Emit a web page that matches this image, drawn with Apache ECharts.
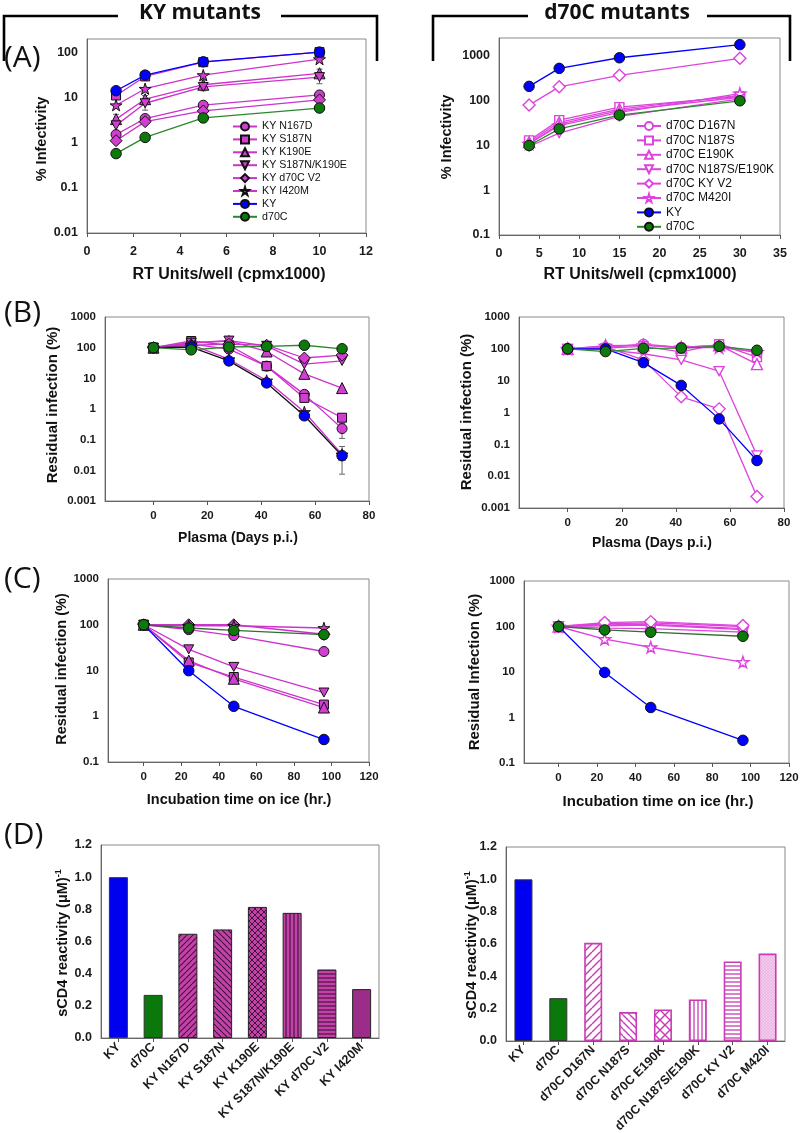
<!DOCTYPE html>
<html><head><meta charset="utf-8">
<script src="https://cdn.jsdelivr.net/npm/echarts@6/dist/echarts.min.js"></script>
<style>html,body{margin:0;padding:0;background:#fff}#c{width:800px;height:1133px}</style>
</head><body><div id="c"></div>
<script>
// ---------------- DATA ----------------
const leftNames  = ['KY N167D','KY S187N','KY K190E','KY S187N/K190E','KY d70C V2','KY I420M','KY','d70C'];
const rightNames = ['d70C D167N','d70C N187S','d70C E190K','d70C N187S/E190K','d70C KY V2','d70C M420I','KY','d70C'];

// (A) infectivity
const aLeftX  = [1.25, 2.5, 5, 10];
const aL_N167D = [1.5, 3.4, 6.7, 11.3];
const aL_S187N = [11, 29, 60, 100];
const aL_K190E = [3.3, 9.1, 19, 34];
const aL_S187N_K190E = [2.4, 7.4, 17, 28];
const aL_V2 = [1.1, 2.9, 5.0, 8.8];
const aL_I420M = [6.7, 15.5, 31, 70];
const aL_KY = [14, 31, 61, 100];
const aL_d70C = [0.57, 1.3, 3.5, 5.8];
const aL_err = [[1.25, 2.6, 4.2], [2.5, 5.2, 11], [5, 14, 24], [10, 20, 42]];

const aRightX = [3.75, 7.5, 15, 30];
const aR_D167N = [11, 30, 60, 120];
const aR_N187S = [13, 37, 72, 125];
const aR_E190K = [12, 33, 65, 132];
const aR_N187S_E190K = [9.5, 19, 45, 110];
const aR_KYV2 = [80, 205, 370, 890];
const aR_M420I = [11, 28, 55, 145];
const aR_KY = [210, 530, 915, 1800];
const aR_d70C = [10, 23.5, 48, 100];

// (B) plasma neutralization
const bX = [0, 14, 28, 42, 56, 70];
const bL_N167D = [100, 130, 90, 25, 3.0, 0.23];
const bL_S187N = [100, 165, 120, 25, 2.3, 0.52];
const bL_K190E = [100, 140, 165, 75, 14, 4.8];
const bL_S187N_K190E = [100, 145, 170, 115, 29, 37];
const bL_V2 = [100, 120, 130, 120, 46, 57];
const bL_I420M = [100, 125, 42, 8.5, 0.8, 0.033];
const bL_KY = [100, 105, 37, 7.1, 0.6, 0.03];
const bL_d70C = [100, 85, 105, 110, 120, 92];
const bL_err = [[70, 0.0075, 0.06], [70, 0.11, 0.34]];

const bR_D167N = [100, 110, 140, 110, 130, 75];
const bR_N187S = [100, 105, 120, 80, 140, 55];
const bR_E190K = [100, 120, 130, 110, 130, 33];
const bR_N187S_E190K = [100, 95, 70, 45, 20, 0.045];
const bR_KYV2 = [100, 115, 45, 3.1, 1.3, 0.0023];
const bR_M420I = [100, 125, 130, 110, 110, 80];
const bR_KY = [100, 100, 37, 7.1, 0.63, 0.031];
const bR_d70C = [100, 82, 104, 106, 120, 90];

// (C) cold inactivation
const cX = [0, 24, 48, 96];
const cL_N167D = [100, 78, 58, 26];
const cL_S187N = [100, 15, 7.2, 1.8];
const cL_K190E = [100, 16.5, 6.6, 1.55];
const cL_S187N_K190E = [100, 29, 12, 3.3];
const cL_V2 = [100, 100, 100, 62];
const cL_I420M = [100, 95, 95, 85];
const cL_KY = [100, 9.9, 1.65, 0.31];
const cL_d70C = [100, 85, 75, 61];

const cR_D167N = [100, 115, 120, 100];
const cR_N187S = [100, 108, 112, 90];
const cR_E190K = [100, 103, 108, 85];
const cR_N187S_E190K = [100, 92, 90, 75];
const cR_KYV2 = [100, 122, 128, 105];
const cR_M420I = [100, 53, 35, 16.5];
const cR_KY = [100, 9.8, 1.66, 0.315];
const cR_d70C = [100, 84, 75, 61];

// (D) sCD4 reactivity
const dL_cats = ['KY','d70C','KY N167D','KY S187N','KY K190E','KY S187N/K190E','KY d70C V2','KY I420M'];
const dL_vals = [1.0, 0.268, 0.648, 0.675, 0.815, 0.778, 0.426, 0.304];
const dR_cats = ['KY','d70C','d70C D167N','d70C N187S','d70C E190K','d70C N187S/E190K','d70C KY V2','d70C M420I'];
const dR_vals = [1.0, 0.265, 0.607, 0.179, 0.195, 0.257, 0.492, 0.541];

// ---------------- STYLE ----------------
const FONT = '"Liberation Sans", Arial, sans-serif';
const HFONT = '"Open Sans", "Noto Sans", sans-serif';
const MAG = '#cc33cc', MAGFILL = '#d23ed2', MAGOPEN = '#dd44dd';
const BLUE = '#0000ff', GREEN = '#0b7a0b', GREENLINE = '#2a8a2a';
const TRI_DOWN = 'path://M0,0 L10,0 L5,9 Z';
const STAR = 'path://M50,0 L61,35 L98,35 L68,57 L79,91 L50,70 L21,91 L32,57 L2,35 L39,35 Z';
const MUT_SYM = [['circle',10],['rect',9],['triangle',11],[TRI_DOWN,10],['diamond',12],[STAR,12]];

function pts(xs, ys){ return xs.map((x,i)=>[x, ys[i]]); }

function mutSeries(name, xs, ys, g, k, open){
  return {
    type:'line', name, xAxisIndex:g, yAxisIndex:g, data:pts(xs,ys),
    symbol:MUT_SYM[k][0], symbolSize:MUT_SYM[k][1], symbolKeepAspect:true,
    lineStyle:{color: open?MAGOPEN:MAG, width:1.3},
    itemStyle: open ? {color:'#fff', borderColor:MAGOPEN, borderWidth:1.4}
                    : {color:MAGFILL, borderColor:'#111', borderWidth:1},
    emphasis:{disabled:true}, z:3
  };
}
function refSeries(name, xs, ys, g, lineColor){
  const isKY = name === 'KY';
  return {
    type:'line', name, xAxisIndex:g, yAxisIndex:g, data:pts(xs,ys),
    symbol:'circle', symbolSize:10.5,
    lineStyle:{color: lineColor || (isKY?BLUE:GREENLINE), width:1.3},
    itemStyle:{color: isKY?BLUE:GREEN, borderColor:'#111', borderWidth:1},
    emphasis:{disabled:true}, z: 4
  };
}
function errSeries(data, g){
  return {
    type:'custom', xAxisIndex:g, yAxisIndex:g, data, z:2, silent:true,
    encode:{x:0, y:[1,2]},
    renderItem:(params, api)=>{
      const lo = api.coord([api.value(0), api.value(1)]);
      const hi = api.coord([api.value(0), api.value(2)]);
      const w = 3, st = {stroke:'#666', lineWidth:1};
      return {type:'group', children:[
        {type:'line', shape:{x1:lo[0],y1:lo[1],x2:hi[0],y2:hi[1]}, style:st},
        {type:'line', shape:{x1:lo[0]-w,y1:lo[1],x2:lo[0]+w,y2:lo[1]}, style:st},
        {type:'line', shape:{x1:hi[0]-w,y1:hi[1],x2:hi[0]+w,y2:hi[1]}, style:st}
      ]};
    }
  };
}

function pattern(kind, bg, fg, step, lw){
  const c = document.createElement('canvas'); c.width = c.height = step;
  const x = c.getContext('2d');
  x.fillStyle = bg; x.fillRect(0,0,step,step);
  x.strokeStyle = fg; x.fillStyle = fg; x.lineWidth = lw;
  const fwd = ()=>{ for(let k=-1;k<=1;k++){ x.beginPath(); x.moveTo(k*step, step); x.lineTo(k*step+step, 0); x.stroke(); } };
  const back = ()=>{ for(let k=-1;k<=1;k++){ x.beginPath(); x.moveTo(k*step, 0); x.lineTo(k*step+step, step); x.stroke(); } };
  if (kind==='fwd') fwd();
  if (kind==='back') back();
  if (kind==='cross'){ fwd(); back(); }
  if (kind==='vert') x.fillRect(step/2-lw/2, 0, lw, step);
  if (kind==='horz') x.fillRect(0, step/2-lw/2, step, lw);
  return {image:c, repeat:'repeat'};
}

const LB = '#c242a8', LL = '#40103a';
const dL_styles = [
  {color:'#0000f0', borderColor:'#333'},
  {color:'#0b780b', borderColor:'#333'},
  {color:pattern('fwd', LB, LL, 6, 1.1), borderColor:'#222'},
  {color:pattern('back', LB, LL, 6, 1.1), borderColor:'#222'},
  {color:pattern('cross', LB, LL, 6, 1.0), borderColor:'#222'},
  {color:pattern('vert', LB, LL, 4, 1.1), borderColor:'#222'},
  {color:pattern('horz', LB, LL, 4, 1.1), borderColor:'#222'},
  {color:'#9b2d88', borderColor:'#222'}
];
const RL = '#c93bb5';
const dR_styles = [
  {color:'#0000f0', borderColor:'#333', borderWidth:1},
  {color:'#0b780b', borderColor:'#333', borderWidth:1},
  {color:pattern('fwd', '#fff', RL, 8, 1.4), borderColor:RL, borderWidth:1.6},
  {color:pattern('back', '#fff', RL, 7, 1.4), borderColor:RL, borderWidth:1.6},
  {color:pattern('cross', '#fff', RL, 10, 1.4), borderColor:RL, borderWidth:1.6},
  {color:pattern('vert', '#fff', RL, 4, 1.3), borderColor:RL, borderWidth:1.6},
  {color:pattern('horz', '#fff', RL, 4, 1.3), borderColor:RL, borderWidth:1.6},
  {color:pattern('cross', '#f4cdee', '#eaaee0', 3, 0.6), borderColor:RL, borderWidth:1.6}
];

// ---------------- LAYOUT ----------------
const grids = [
  {left:87,  top:39,  width:279, height:194},  // A left
  {left:499, top:38,  width:281, height:197},  // A right
  {left:105, top:317, width:264, height:184},  // B left
  {left:519, top:317, width:265, height:191},  // B right
  {left:108, top:579, width:261, height:183},  // C left
  {left:524, top:581, width:265, height:182},  // C right
  {left:101, top:845, width:278, height:193},  // D left
  {left:506, top:847, width:279, height:194}   // D right
].map(g=>Object.assign({show:true, borderColor:'#8a8a8a', borderWidth:1, backgroundColor:'#fff', outerBoundsMode:'none', containLabel:false}, g));

function logLabel(v){
  const l = Math.log10(v);
  if (Math.abs(l-Math.round(l))>1e-6) return '';
  return String(Number(Math.pow(10, Math.round(l)).toPrecision(3)));
}
const axLine = {show:true, onZero:false, lineStyle:{color:'#666', width:1}};
function valX(g, min, max, ticks, fs, margin){
  return {type:'value', gridIndex:g, min, max,
    axisLine:axLine, splitLine:{show:false},
    axisTick:{show:true, length:4, lineStyle:{color:'#555'}, customValues:ticks},
    axisLabel:{customValues:ticks, fontFamily:FONT, fontWeight:'bold', fontSize:fs, color:'#1a1a1a', margin:margin||9}};
}
function logY(g, min, max, fs){
  return {type:'log', gridIndex:g, min, max, logBase:10,
    axisLine:axLine, splitLine:{show:false}, axisTick:{show:false}, minorTick:{show:false},
    axisLabel:{formatter:logLabel, fontFamily:FONT, fontWeight:'bold', fontSize:fs, color:'#1a1a1a', margin:9, showMinLabel:true, showMaxLabel:true, hideOverlap:false}};
}
function catX(g, cats){
  return {type:'category', gridIndex:g, data:cats,
    axisLine:axLine, splitLine:{show:false},
    axisTick:{show:true, alignWithLabel:true, length:4, lineStyle:{color:'#555'}},
    axisLabel:{interval:0, rotate:45, fontFamily:FONT, fontWeight:'bold', fontSize:12.5, color:'#1a1a1a', margin:7, hideOverlap:false}};
}
function barY(g){
  return {type:'value', gridIndex:g, min:0, max:1.2, interval:0.2,
    axisLine:axLine, splitLine:{show:false}, axisTick:{show:false},
    axisLabel:{formatter:v=>v.toFixed(1), fontFamily:FONT, fontWeight:'bold', fontSize:12.5, color:'#1a1a1a', margin:9}};
}

const xAxes = [
  valX(0, 0, 12, [0,2,4,6,8,10,12], 12.5, 12),
  valX(1, 0, 35, [0,5,10,15,20,25,30,35], 12.5, 12),
  valX(2, -18, 80, [0,20,40,60,80], 11.5),
  valX(3, -18, 80, [0,20,40,60,80], 11.5),
  valX(4, -19, 120, [0,20,40,60,80,100,120], 11.5),
  valX(5, -18, 120, [0,20,40,60,80,100,120], 11.5),
  catX(6, dL_cats),
  catX(7, dR_cats)
];
const yAxes = [
  logY(0, 0.01, 195, 12.5),
  logY(1, 0.1, 2530, 12.5),
  logY(2, 0.001, 1000, 11.5),
  logY(3, 0.001, 1000, 11.5),
  logY(4, 0.1, 1000, 11.5),
  logY(5, 0.1, 1000, 11.5),
  barY(6),
  barY(7)
];

const series = [
  errSeries(aL_err, 0),
  mutSeries('KY N167D', aLeftX, aL_N167D, 0, 0),
  mutSeries('KY S187N', aLeftX, aL_S187N, 0, 1),
  mutSeries('KY K190E', aLeftX, aL_K190E, 0, 2),
  mutSeries('KY S187N/K190E', aLeftX, aL_S187N_K190E, 0, 3),
  mutSeries('KY d70C V2', aLeftX, aL_V2, 0, 4),
  mutSeries('KY I420M', aLeftX, aL_I420M, 0, 5),
  refSeries('KY', aLeftX, aL_KY, 0),
  refSeries('d70C', aLeftX, aL_d70C, 0),

  mutSeries('d70C D167N', aRightX, aR_D167N, 1, 0, true),
  mutSeries('d70C N187S', aRightX, aR_N187S, 1, 1, true),
  mutSeries('d70C E190K', aRightX, aR_E190K, 1, 2, true),
  mutSeries('d70C N187S/E190K', aRightX, aR_N187S_E190K, 1, 3, true),
  mutSeries('d70C KY V2', aRightX, aR_KYV2, 1, 4, true),
  mutSeries('d70C M420I', aRightX, aR_M420I, 1, 5, true),
  refSeries('KY', aRightX, aR_KY, 1),
  refSeries('d70C', aRightX, aR_d70C, 1),

  errSeries(bL_err, 2),
  mutSeries('KY N167D', bX, bL_N167D, 2, 0),
  mutSeries('KY S187N', bX, bL_S187N, 2, 1),
  mutSeries('KY K190E', bX, bL_K190E, 2, 2),
  mutSeries('KY S187N/K190E', bX, bL_S187N_K190E, 2, 3),
  mutSeries('KY d70C V2', bX, bL_V2, 2, 4),
  mutSeries('KY I420M', bX, bL_I420M, 2, 5),
  refSeries('KY', bX, bL_KY, 2, '#111'),
  refSeries('d70C', bX, bL_d70C, 2),

  mutSeries('d70C D167N', bX, bR_D167N, 3, 0, true),
  mutSeries('d70C N187S', bX, bR_N187S, 3, 1, true),
  mutSeries('d70C E190K', bX, bR_E190K, 3, 2, true),
  mutSeries('d70C N187S/E190K', bX, bR_N187S_E190K, 3, 3, true),
  mutSeries('d70C KY V2', bX, bR_KYV2, 3, 4, true),
  mutSeries('d70C M420I', bX, bR_M420I, 3, 5, true),
  refSeries('KY', bX, bR_KY, 3),
  refSeries('d70C', bX, bR_d70C, 3),

  mutSeries('KY N167D', cX, cL_N167D, 4, 0),
  mutSeries('KY S187N', cX, cL_S187N, 4, 1),
  mutSeries('KY K190E', cX, cL_K190E, 4, 2),
  mutSeries('KY S187N/K190E', cX, cL_S187N_K190E, 4, 3),
  mutSeries('KY d70C V2', cX, cL_V2, 4, 4),
  mutSeries('KY I420M', cX, cL_I420M, 4, 5),
  refSeries('KY', cX, cL_KY, 4),
  refSeries('d70C', cX, cL_d70C, 4, '#2f6f2f'),

  mutSeries('d70C D167N', cX, cR_D167N, 5, 0, true),
  mutSeries('d70C N187S', cX, cR_N187S, 5, 1, true),
  mutSeries('d70C E190K', cX, cR_E190K, 5, 2, true),
  mutSeries('d70C N187S/E190K', cX, cR_N187S_E190K, 5, 3, true),
  mutSeries('d70C KY V2', cX, cR_KYV2, 5, 4, true),
  mutSeries('d70C M420I', cX, cR_M420I, 5, 5, true),
  refSeries('KY', cX, cR_KY, 5),
  refSeries('d70C', cX, cR_d70C, 5, '#2f6f2f'),

  {type:'bar', name:'sCD4-KY', xAxisIndex:6, yAxisIndex:6, barWidth:19,
   data: dL_vals.map((v,i)=>({value:v, itemStyle:Object.assign({borderWidth:1}, dL_styles[i])})),
   emphasis:{disabled:true}},
  {type:'bar', name:'sCD4-d70C', xAxisIndex:7, yAxisIndex:7, barWidth:18,
   data: dR_vals.map((v,i)=>({value:v, itemStyle:dR_styles[i]})),
   emphasis:{disabled:true}}
];

// ---------------- TEXT / DECOR ----------------
const T = (text, x, y, o={}) => ({type:'text', x, y, rotation:o.rot||0, silent:true, z:10,
  style:Object.assign({text, fill:'#111', font:`${o.w||'bold'} ${o.fs||14.5}px ${o.ff||FONT}`, align:'center', verticalAlign:'middle'}, o.style||{})});
const YT = (text, x, y, fs) => T(text, x, y, {rot:Math.PI/2, fs});
const sCD4 = (x, y) => ({type:'text', x, y, rotation:Math.PI/2, silent:true, z:10,
  style:{text:'{a|sCD4 reactivity (μM)}{s|-1}', align:'center', verticalAlign:'middle',
    rich:{a:{font:`bold 14.5px ${FONT}`, fill:'#111'}, s:{font:`bold 9px ${FONT}`, fill:'#111', verticalAlign:'top', padding:[0,0,9,0]}}}});
const PL = (text, y) => T(text, 4, y, {w:'normal', fs:30, ff:HFONT, style:{align:'left'}});
const BR = (points) => ({type:'polyline', silent:true, shape:{points}, style:{stroke:'#000', lineWidth:2.6, fill:null}});

const graphic = [
  T('KY mutants', 200, 13, {fs:21, ff:HFONT}),
  T('d70C mutants', 617, 13, {fs:21, ff:HFONT}),
  BR([[4,61],[4,16],[118,16]]), BR([[281,16],[377,16],[377,61]]),
  BR([[433,61],[433,16],[528,16]]), BR([[707,16],[790,16],[790,61]]),
  PL('(A)', 58), PL('(B)', 313), PL('(C)', 579), PL('(D)', 835),
  T('RT Units/well (cpmx1000)', 229, 275, {fs:16}), YT('% Infectivity', 42, 139),
  T('RT Units/well (cpmx1000)', 640, 275, {fs:16}), YT('% Infectivity', 447, 137),
  T('Plasma (Days p.i.)', 238, 538, {fs:14}), YT('Residual infection (%)', 53, 405, 15),
  T('Plasma (Days p.i.)', 652, 543, {fs:14}), YT('Residual infection (%)', 467, 412, 15),
  T('Incubation time on ice (hr.)', 239, 800), YT('Residual infection (%)', 62, 669, 14.5),
  T('Incubation time on ice (hr.)', 658, 802, {fs:15}), YT('Residual Infection (%)', 475, 672, 15),
  sCD4(63, 943), sCD4(472, 945)
];

const legendBase = {orient:'vertical', itemWidth:24, itemHeight:10, padding:0,
  selectedMode:false, inactiveColor:'#111'};
const legend = [
  Object.assign({}, legendBase, {data:leftNames, left:232, top:121, itemGap:1.9, textStyle:{fontFamily:FONT, fontSize:10.7, color:'#111'}}),
  Object.assign({}, legendBase, {data:rightNames, left:636, top:120, itemGap:2.4, textStyle:{fontFamily:FONT, fontSize:12, color:'#111'}})
];

const chart = echarts.init(document.getElementById('c'), null, {renderer:'canvas'});
chart.setOption({
  animation:false, backgroundColor:'#fff',
  textStyle:{fontFamily:FONT},
  grid:grids, xAxis:xAxes, yAxis:yAxes, series, legend, graphic,
  tooltip:{show:false}
});
</script></body></html>
